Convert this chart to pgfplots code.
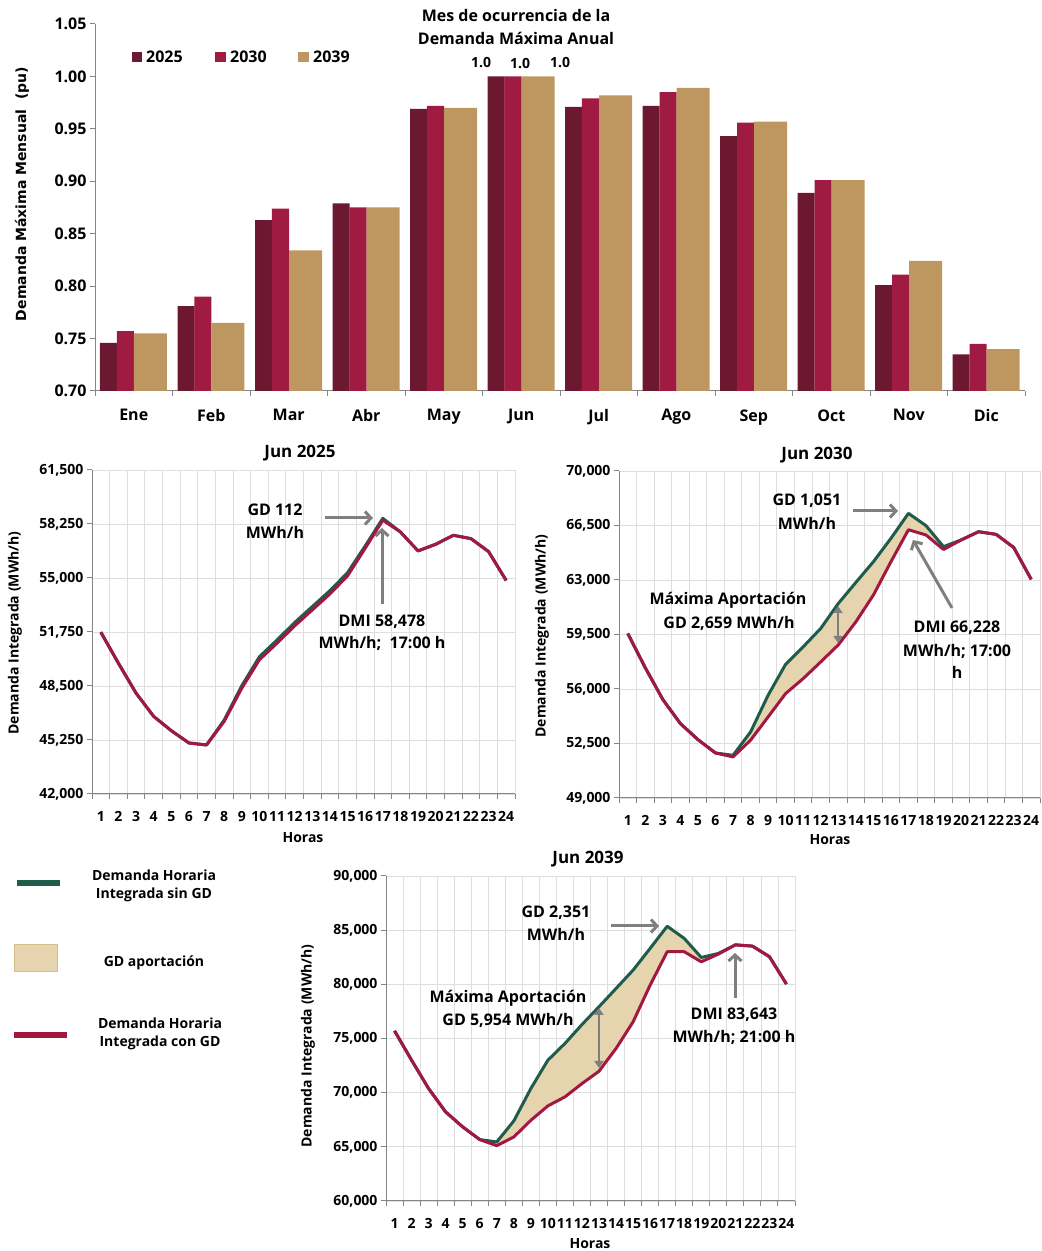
\documentclass[border=0pt]{standalone}
\usepackage{fontspec}
\setmainfont{Open Sans}
\newfontfamily\dejavu{DejaVu Sans}
\usepackage{pgfplots}
\pgfplotsset{compat=1.18}
\usepgfplotslibrary{fillbetween}
\usetikzlibrary{arrows.meta}
\definecolor{cA}{RGB}{107,24,48}
\definecolor{cB}{RGB}{160,27,66}
\definecolor{cC}{RGB}{190,150,95}
\definecolor{cgreen}{RGB}{31,92,76}
\definecolor{cred}{RGB}{162,24,64}
\definecolor{ctan}{RGB}{230,212,174}
\definecolor{ctanb}{RGB}{214,190,140}
\definecolor{axgray}{RGB}{134,134,134}
\definecolor{gridgray}{RGB}{222,222,222}
\definecolor{arrgray}{RGB}{127,127,127}
\newcommand{\fs}[1]{\fontsize{#1}{#1}\selectfont}
\pgfplotsset{
 lowp/.style={
  anchor=south west, scale only axis,
  xmin=0.5, xmax=24.5,
  axis lines=left, axis line style={-, draw=axgray, line width=1pt},
  tick align=outside, major tick length=5pt, tick style={draw=axgray, line width=1pt},
  xtick={0.5,1.5,...,24.5}, xticklabels={},
  extra x ticks={1,2,...,24},
  extra x tick style={major tick length=0pt, grid=none},
  xmajorgrids, ymajorgrids, grid style={draw=gridgray, line width=0.8pt},
  ticklabel style={font=\bfseries\fs{14}},
  xticklabel style={yshift=-14pt, /pgf/number format/assume math mode=true},
  yticklabel style={/pgf/number format/fixed, /pgf/number format/1000 sep={,}, /pgf/number format/assume math mode=true},
  scaled y ticks=false,
 },
 gl/.style={draw=cgreen, line width=3pt, line join=round},
 rl/.style={draw=cred, line width=3pt, line join=round},
}
\tikzset{
 ann/.style={font=\bfseries\fs{16}, inner sep=0pt},
 arr/.style={draw=arrgray, line width=3pt, -{Straight Barb[length=6pt,width=13pt]}},
 darr/.style={draw=arrgray, line width=2.5pt, {Triangle[length=7pt,width=9pt]}-{Triangle[length=7pt,width=9pt]}},
}
\begin{document}
\begin{tikzpicture}[x=1pt,y=1pt]

% ---------------- top bar chart ----------------
\begin{axis}[
 at={(95pt,860pt)}, anchor=south west, scale only axis, width=930pt, height=367pt,
 xmin=-0.5, xmax=11.5, ymin=0.70, ymax=1.05,
 axis lines=left, axis line style={-, draw=axgray, line width=1pt},
 tick align=outside, major tick length=5pt, tick style={draw=axgray, line width=1pt},
 xtick={-0.5,0.5,...,11.5}, xticklabels={},
 extra x ticks={0,1,...,11},
 extra x tick labels={Ene,Feb,Mar,Abr,May,Jun,Jul,Ago,Sep,Oct,Nov,Dic},
 extra x tick style={major tick length=0pt},
 xticklabel style={yshift=-15pt},
 ytick={0.70,0.75,0.80,0.85,0.90,0.95,1.00,1.05},
 yticklabel style={/pgf/number format/fixed, /pgf/number format/fixed zerofill, /pgf/number format/precision=2, /pgf/number format/assume math mode=true},
 ticklabel style={font=\bfseries\fs{16}},
]
\addplot[ybar, bar width=0.2194, bar shift=-0.3258, fill=cA, draw=none] coordinates {
(0,0.746) (1,0.781) (2,0.863) (3,0.879) (4,0.969) (5,1.000) (6,0.971) (7,0.972) (8,0.943) (9,0.889) (10,0.801) (11,0.735)};
\addplot[ybar, bar width=0.2194, bar shift=-0.1065, fill=cB, draw=none] coordinates {
(0,0.757) (1,0.790) (2,0.874) (3,0.875) (4,0.972) (5,1.000) (6,0.979) (7,0.985) (8,0.956) (9,0.901) (10,0.811) (11,0.745)};
\addplot[ybar, bar width=0.4258, bar shift=0.2161, fill=cC, draw=none] coordinates {
(0,0.755) (1,0.765) (2,0.834) (3,0.875) (4,0.970) (5,1.000) (6,0.982) (7,0.989) (8,0.957) (9,0.901) (10,0.824) (11,0.740)};
\end{axis}

% top chart texts
\node[font=\bfseries\fs{16}] at (516,1235) {Mes de ocurrencia de la};
\node[font=\bfseries\fs{16}] at (516,1213) {Demanda Máxima Anual};
\node[font=\bfseries\fs{14}] at (481,1188) {1.0};
\node[font=\bfseries\fs{14}] at (520,1187) {1.0};
\node[font=\bfseries\fs{14}] at (560,1188) {1.0};
\fill[cA] (132,1189) rectangle (142,1199);
\node[font=\bfseries\fs{16}, anchor=west, inner sep=0pt] at (146,1194) {2025};
\fill[cB] (215,1189) rectangle (226,1199);
\node[font=\bfseries\fs{16}, anchor=west, inner sep=0pt] at (230,1194) {2030};
\fill[cC] (298,1189) rectangle (309,1199);
\node[font=\bfseries\fs{16}, anchor=west, inner sep=0pt] at (313,1194) {2039};
\node[rotate=90, font=\dejavu\bfseries\fs{14}] at (22,1057) {Demanda Máxima Mensual~~(pu)};

% ---------------- Jun 2025 ----------------
\begin{axis}[lowp, at={(92pt,457pt)}, width=423pt, height=324pt,
 ymin=42000, ymax=61500, ytick={42000,45250,48500,51750,55000,58250,61500}]
\addplot[gl] coordinates {(1,51740) (2,49870) (3,48070) (4,46670) (5,45810) (6,45070) (7,44950) (8,46450) (9,48520) (10,50260) (11,51270) (12,52320) (13,53280) (14,54240) (15,55320) (16,56930) (17,58590) (18,57770) (19,56630) (20,57030) (21,57570) (22,57370) (23,56590) (24,54850)};
\addplot[rl] coordinates {(1,51740) (2,49870) (3,48070) (4,46670) (5,45810) (6,45070) (7,44950) (8,46370) (9,48370) (10,50080) (11,51080) (12,52120) (13,53080) (14,54040) (15,55130) (16,56790) (17,58478) (18,57770) (19,56630) (20,57030) (21,57570) (22,57370) (23,56590) (24,54850)};
\end{axis}
\node[font=\bfseries\fs{17}] at (300,798) {Jun 2025};
\node[rotate=90, font=\bfseries\fs{14}] at (15,618) {Demanda Integrada (MWh/h)};
\node[font=\bfseries\fs{14}] at (303,413) {Horas};
\node[ann] at (275,741) {GD 112};
\node[ann] at (275,719) {MWh/h};
\draw[arr] (325,733) -- (373,733);
\draw[arr] (382,647) -- (382,723);
\node[ann] at (382,629) {DMI 58,478};
\node[ann] at (382,608) {MWh/h;~ 17:00 h};

% ---------------- Jun 2030 ----------------
\begin{axis}[lowp, at={(619pt,453pt)}, width=421pt, height=327pt,
 ymin=49000, ymax=70000, ytick={49000,52500,56000,59500,63000,66500,70000}]
\addplot[draw=none, name path=G] coordinates {(1,59565) (2,57360) (3,55320) (4,53780) (5,52750) (6,51890) (7,51740) (8,53240) (9,55600) (10,57590) (11,58710) (12,59890) (13,61490) (14,62840) (15,64170) (16,65670) (17,67279) (18,66490) (19,65140) (20,65570) (21,66100) (22,65930) (23,65090) (24,63040)};
\addplot[draw=none, name path=R] coordinates {(1,59565) (2,57360) (3,55320) (4,53780) (5,52750) (6,51890) (7,51640) (8,52710) (9,54210) (10,55710) (11,56670) (12,57740) (13,58831) (14,60310) (15,62030) (16,64170) (17,66228) (18,65890) (19,64960) (20,65570) (21,66100) (22,65930) (23,65090) (24,63040)};
\addplot[fill=ctan, draw=none] fill between[of=G and R];
\addplot[gl] coordinates {(1,59565) (2,57360) (3,55320) (4,53780) (5,52750) (6,51890) (7,51740) (8,53240) (9,55600) (10,57590) (11,58710) (12,59890) (13,61490) (14,62840) (15,64170) (16,65670) (17,67279) (18,66490) (19,65140) (20,65570) (21,66100) (22,65930) (23,65090) (24,63040)};
\addplot[rl] coordinates {(1,59565) (2,57360) (3,55320) (4,53780) (5,52750) (6,51890) (7,51640) (8,52710) (9,54210) (10,55710) (11,56670) (12,57740) (13,58831) (14,60310) (15,62030) (16,64170) (17,66228) (18,65890) (19,64960) (20,65570) (21,66100) (22,65930) (23,65090) (24,63040)};
\end{axis}
\node[font=\bfseries\fs{17}] at (817,796) {Jun 2030};
\node[rotate=90, font=\bfseries\fs{14}] at (542,615) {Demanda Integrada (MWh/h)};
\node[font=\bfseries\fs{14}] at (830,411) {Horas};
\node[ann] at (807,750) {GD 1,051};
\node[ann] at (807,728) {MWh/h};
\draw[arr] (853,740) -- (898,740);
\node[ann] at (728,651) {Máxima Aportación};
\node[ann] at (729,628) {GD 2,659 MWh/h};
\draw[darr] (838,645) -- (838,608);
\node[ann] at (957,623) {DMI 66,228};
\node[ann] at (957,600) {MWh/h; 17:00};
\node[ann] at (957,579) {h};
\draw[arr] (952,643) -- (913,711);

% ---------------- Jun 2039 ----------------
\begin{axis}[lowp, at={(386pt,50pt)}, width=409pt, height=325pt,
 ymin=60000, ymax=90000, ytick={60000,65000,70000,75000,80000,85000,90000}]
\addplot[draw=none, name path=G] coordinates {(1,75710) (2,73000) (3,70380) (4,68220) (5,66840) (6,65670) (7,65450) (8,67390) (9,70380) (10,73000) (11,74540) (12,76290) (13,77934) (14,79620) (15,81310) (16,83320) (17,85361) (18,84240) (19,82480) (20,82850) (21,83643) (22,83530) (23,82550) (24,80020)};
\addplot[draw=none, name path=R] coordinates {(1,75710) (2,73000) (3,70380) (4,68220) (5,66840) (6,65670) (7,65110) (8,65910) (9,67450) (10,68780) (11,69610) (12,70840) (13,71980) (14,74080) (15,76540) (16,79930) (17,83010) (18,83010) (19,82080) (20,82790) (21,83643) (22,83530) (23,82550) (24,80020)};
\addplot[fill=ctan, draw=none] fill between[of=G and R];
\addplot[gl] coordinates {(1,75710) (2,73000) (3,70380) (4,68220) (5,66840) (6,65670) (7,65450) (8,67390) (9,70380) (10,73000) (11,74540) (12,76290) (13,77934) (14,79620) (15,81310) (16,83320) (17,85361) (18,84240) (19,82480) (20,82850) (21,83643) (22,83530) (23,82550) (24,80020)};
\addplot[rl] coordinates {(1,75710) (2,73000) (3,70380) (4,68220) (5,66840) (6,65670) (7,65110) (8,65910) (9,67450) (10,68780) (11,69610) (12,70840) (13,71980) (14,74080) (15,76540) (16,79930) (17,83010) (18,83010) (19,82080) (20,82790) (21,83643) (22,83530) (23,82550) (24,80020)};
\end{axis}
\node[font=\bfseries\fs{17}] at (588,392) {Jun 2039};
\node[rotate=90, font=\bfseries\fs{14}] at (308,205) {Demanda Integrada (MWh/h)};
\node[font=\bfseries\fs{14}] at (590,7) {Horas};
\node[ann] at (556,338) {GD 2,351};
\node[ann] at (556,317) {MWh/h};
\draw[arr] (611,325) -- (659,325);
\node[ann] at (508,253) {Máxima Aportación};
\node[ann] at (508,231) {GD 5,954 MWh/h};
\draw[darr] (599,243) -- (599,183);
\node[ann] at (734,236) {DMI 83,643};
\node[ann] at (734,214) {MWh/h; 21:00 h};
\draw[arr] (735,253) -- (735,298);

% ---------------- legend ----------------
\draw[cgreen, line width=6pt] (17,368) -- (60,368);
\node[font=\bfseries\fs{14}] at (154,376) {Demanda Horaria};
\node[font=\bfseries\fs{14}] at (154,356) {Integrada sin GD};
\filldraw[fill=ctan, draw=ctanb, line width=1pt] (14,279) rectangle (57,306);
\node[font=\bfseries\fs{14}] at (154,288) {GD aportación};
\draw[cred, line width=6pt] (14,216) -- (67,216);
\node[font=\bfseries\fs{14}] at (160,228) {Demanda Horaria};
\node[font=\bfseries\fs{14}] at (160,208) {Integrada con GD};

\pgfresetboundingbox
\path (0,0) rectangle (1042,1251);
\end{tikzpicture}
\end{document}
